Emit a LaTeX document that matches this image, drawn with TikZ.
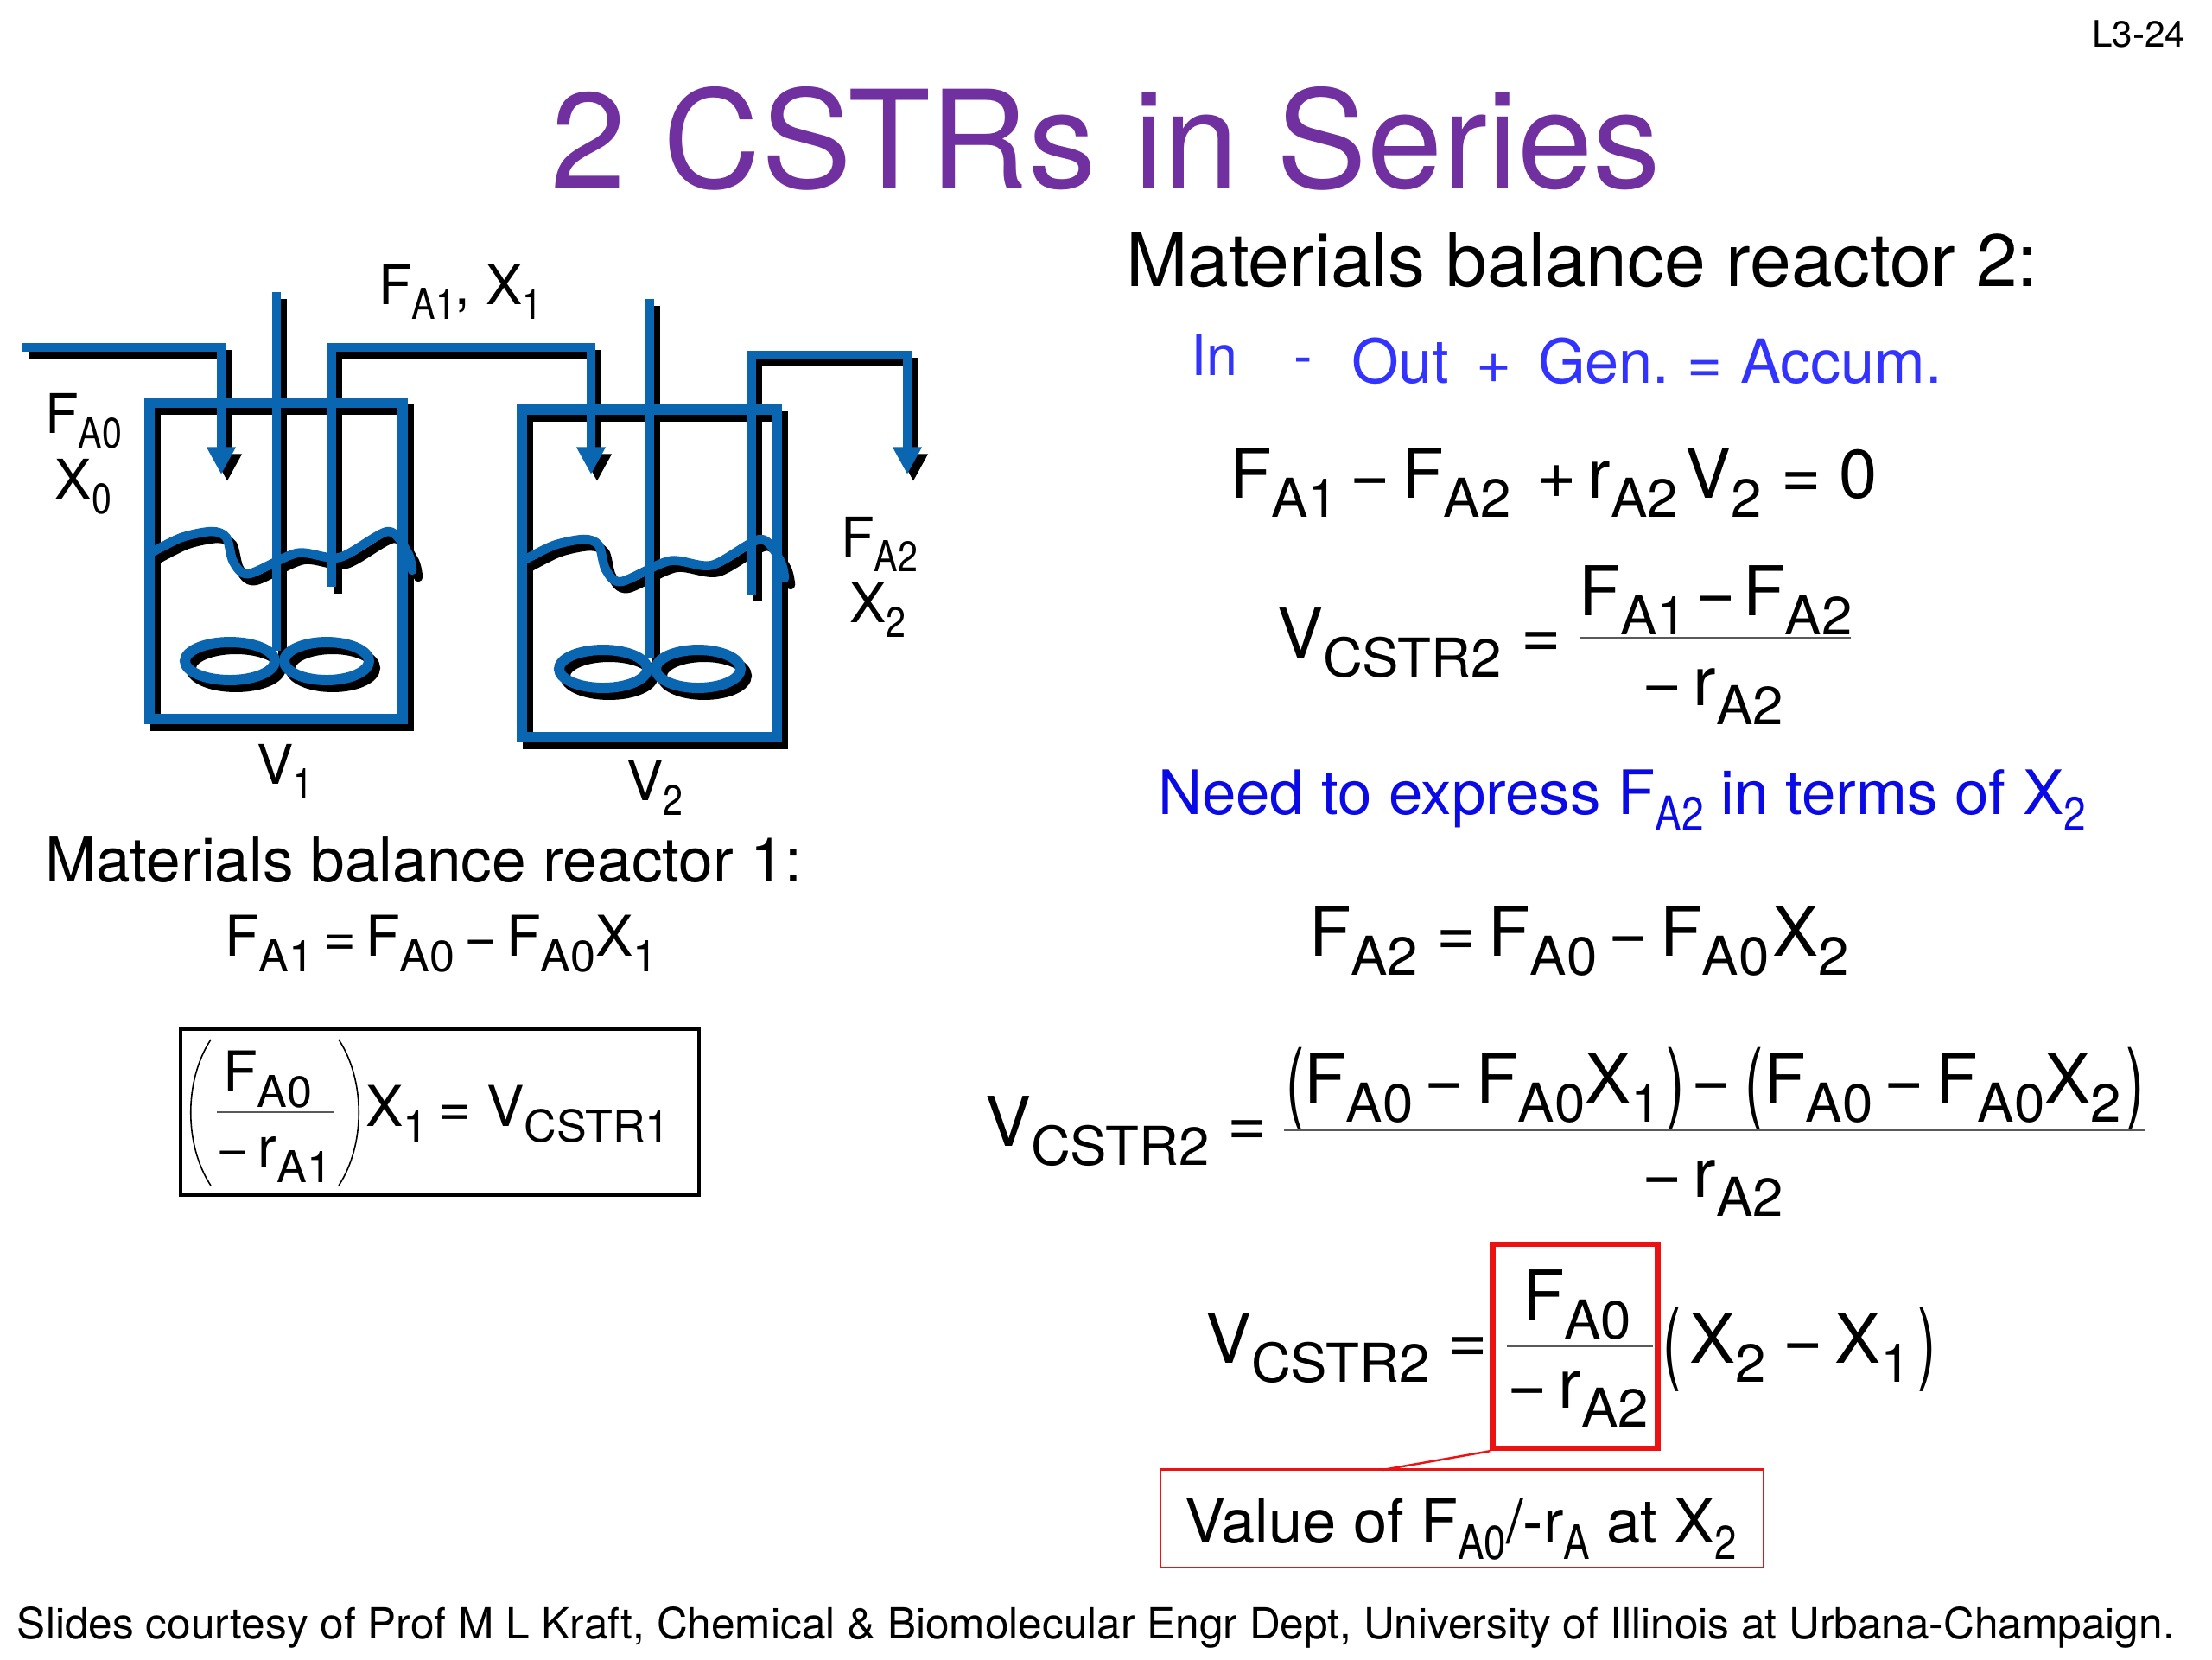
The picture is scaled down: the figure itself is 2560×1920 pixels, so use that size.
\documentclass[tikz,border=0pt]{standalone}
\usepackage{xcolor}
\usepackage{fontspec}
\setmainfont{TeX Gyre Heros}
\usetikzlibrary{arrows.meta}
\definecolor{pipeblue}{HTML}{0B66B2}
\definecolor{titlepurple}{HTML}{7030A0}
\definecolor{termblue}{HTML}{3333FF}
\definecolor{noteblue}{HTML}{0A0AE6}
\definecolor{boxred}{HTML}{EE1111}
\newcommand{\low}[1]{\raisebox{-.28em}{\scalebox{.8}[.78]{#1}}}
\newcommand{\lowt}[1]{\raisebox{-.27em}{\scalebox{.65}[.78]{#1}}}
\newcommand{\lp}{\raisebox{-.14em}{\scalebox{.8}[1.3]{(}}}
\newcommand{\rp}{\raisebox{-.14em}{\scalebox{.8}[1.3]{)}}}
\tikzset{
  txt/.style={anchor=base west, inner sep=0pt, outer sep=0pt},
  titletext/.style={txt, text=titlepurple, font=\fontsize{44.6}{50}\selectfont},
  pagemark/.style={anchor=base east, inner sep=0pt, font=\fontsize{12}{14}\selectfont},
  head/.style={txt, font=\fontsize{24.4}{30}\selectfont},
  headsmall/.style={txt, font=\fontsize{20.25}{25}\selectfont},
  streamlabel/.style={txt, font=\fontsize{18}{20}\selectfont},
  term/.style={txt, text=termblue, font=\fontsize{20}{24}\selectfont},
  note/.style={txt, text=noteblue, font=\fontsize{20.15}{24}\selectfont},
  eqn/.style={txt, font=\fontsize{22.6}{27}\selectfont},
  eqnsmall/.style={txt, font=\fontsize{18.5}{22}\selectfont},
  footer/.style={txt, font=\fontsize{14.1}{16}\selectfont},
  fracrule/.style={draw=black!65, line width=.7pt},
  thinparen/.style={draw=black, line width=.45pt},
  tankline/.style={line width=3.2pt, line join=miter},
  pipeline/.style={line width=2.8pt, line join=miter},
  surface/.style={line width=3pt, line join=round, line cap=round},
  blade/.style={line width=3.4pt},
  flowarrow/.style={pipeline, -{Triangle[width=9pt,length=9pt]}},
  blackbox/.style={draw=black, line width=1.2pt, minimum width=6cm, minimum height=1.92cm, inner sep=0pt},
  redbox/.style={draw=boxred, line width=1.8pt, minimum width=1.91cm, minimum height=2.36cm, inner sep=0pt},
  valuebox/.style={draw=boxred, line width=.6pt, minimum width=6.98cm, minimum height=1.13cm, inner sep=0pt},
}
\begin{document}
\begin{tikzpicture}[x=.01cm,y=-.01cm]
  \useasboundingbox (0,0) rectangle (2560,1920);

  \node[pagemark] (mark) at (2530,54) {L3-24};
  \node[titletext] (title) at (637,217) {2 CSTRs in Series};

  % the two tanks, black pass first and blue on top
  \foreach \pipecol/\dx/\dy in {black/7/8,pipeblue/0/0}{
    \begin{scope}[shift={(\dx,\dy)},color=\pipecol]
      \draw[tankline] (173,466) rectangle (466,832);
      \draw[tankline] (604,474) rectangle (899,853);
      \draw[pipeline] (320,338) -- (320,753);
      \draw[pipeline] (752,346) -- (752,761);
      \draw[surface] plot[smooth] coordinates {(174,640) (210,622) (245,615) (262,622) (270,650) (288,664) (344,640) (393,645) (449,615) (472,640) (477,660)};
      \draw[surface] plot[smooth] coordinates {(605,649) (641,631) (676,624) (693,631) (701,659) (719,673) (775,649) (824,654) (880,624) (903,649) (908,669)};
      \draw[blade] (266,765) ellipse [x radius=52, y radius=22];
      \draw[blade] (378,765) ellipse [x radius=49, y radius=22];
      \draw[blade] (698,774) ellipse [x radius=51, y radius=22];
      \draw[blade] (808,774) ellipse [x radius=49, y radius=22];
      \draw[flowarrow] (26,402) -- (256,402) -- (256,549);
      \draw[flowarrow] (384,679) -- (384,402) -- (684,402) -- (684,549);
      \draw[flowarrow] (870,688) -- (870,411) -- (1050,411) -- (1050,549);
    \end{scope}
  }

  \node[streamlabel] (fa0) at (52,501) {F\lowt{A0}};
  \node[streamlabel] (x0) at (64,577) {X\lowt{0}};
  \node[streamlabel] (fa1) at (438,352) {F\lowt{A1}, X\lowt{1}};
  \node[streamlabel] (v1) at (297,907) {V\lowt{1}};
  \node[streamlabel] (v2) at (725,926) {V\lowt{2}};
  \node[streamlabel] (fa2) at (973,644) {F\lowt{A2}};
  \node[streamlabel] (x2) at (983,720) {X\lowt{2}};

  \node[headsmall] (bal1) at (52,1020) {Materials balance reactor 1:};
  \node[eqnsmall] (eqa) at (260,1106) {F\low{A1}\,=\,F\low{A0}\,−\,F\low{A0}X\low{1}};
  \node[blackbox] (volbox) at (509,1287) {};
  \node[eqnsmall] (numa) at (258,1263) {F\low{A0}\hspace{1pt}};
  \draw[fracrule] (251,1287) -- (386,1287);
  \node[eqnsmall] (dena) at (250,1350) {−\,r\low{A1}};
  \draw[thinparen] (244,1203) .. controls (213,1250) and (213,1325) .. (244,1372);
  \draw[thinparen] (392,1203) .. controls (423,1250) and (423,1325) .. (392,1372);
  \node[eqnsmall] (vola) at (423,1303) {X\low{1}\hspace{3.5pt}=\hspace{5pt}V\low{CSTR1}};

  \node[head] (bal2) at (1303,331) {Materials balance reactor 2:};
  \node[term, font=\fontsize{18.4}{22}\selectfont] (tin) at (1378,434) {In};
  \node[term, font=\fontsize{18.4}{22}\selectfont] (tminus) at (1497,434) {-};
  \node[term] (tout) at (1564,443) {Out};
  \node[term] (tplus) at (1708,443) {+};
  \node[term] (tgen) at (1780,443) {Gen.};
  \node[term] (teq) at (1952,443) {=};
  \node[term] (tacc) at (2014,443) {Accum.};

  \node[eqn] (eqb) at (1423,576) {F\low{A1}\,−\,F\low{A2}\hspace{8.4pt}+\,r\low{A2}\hspace{2.3pt}V\low{2}\hspace{6.5pt}=\hspace{6pt}0};
  \node[eqn] (volb) at (1478,761) {V\low{CSTR2}\hspace{6.6pt}=};
  \node[eqn] (numb) at (1827,712) {F\low{A1}\hspace{2.5pt}−\hspace{2.5pt}F\low{A2}};
  \draw[fracrule] (1829,738) -- (2142,738);
  \node[eqn] (denb) at (1900,816) {−\,r\low{A2}};

  \node[note] (express) at (1340,942) {Need to express F\lowt{A2} in terms of X\lowt{2}};

  \node[eqn] (eqc) at (1515,1106) {F\low{A2}\hspace{6pt}=\,F\low{A0}\,−\,F\low{A0}\hspace{1pt}X\low{2}};
  \node[eqn] (volc) at (1140,1326) {V\low{CSTR2}\hspace{6pt}=};
  \node[eqn] (numc) at (1488,1276) {\lp F\low{A0}\,−\,F\low{A0}X\low{1}\hspace{1.5pt}\rp\hspace{2.3pt}−\hspace{4.5pt}\lp F\low{A0}\,−\,F\low{A0}X\low{2}\hspace{1.5pt}\rp};
  \draw[fracrule] (1486,1308) -- (2483,1308);
  \node[eqn] (denc) at (1900,1385) {−\,r\low{A2}};

  \node[eqn] (vold) at (1395,1577) {V\low{CSTR2}\hspace{6pt}=};
  \node[redbox] (frac) at (1823,1558) {};
  \node[eqn] (numd) at (1762,1527) {F\low{A0}};
  \draw[fracrule] (1744,1558) -- (1913,1558);
  \node[eqn] (dend) at (1744,1629) {−\,r\low{A2}};
  \node[eqn] (diff) at (1924,1577) {\lp\hspace{2.8pt}X\low{2}\hspace{5.7pt}−\,X\low{1}\hspace{2.3pt}\rp};

  \node[valuebox] (value) at (1692,1757) {};
  \node[txt, font=\fontsize{20}{25}\selectfont] (valuetext) at (1371,1785) {Value of F\lowt{A0}/-r\lowt{A} at X\lowt{2}};
  \coordinate (valuetop) at (1600,1701);
  \draw[boxred, line width=.7pt] (frac.south west) -- (valuetop);

  \node[footer] (credit) at (20,1896) {Slides courtesy of Prof M L Kraft, Chemical \& Biomolecular Engr Dept, University of Illinois at Urbana-Champaign.};
\end{tikzpicture}
\end{document}
